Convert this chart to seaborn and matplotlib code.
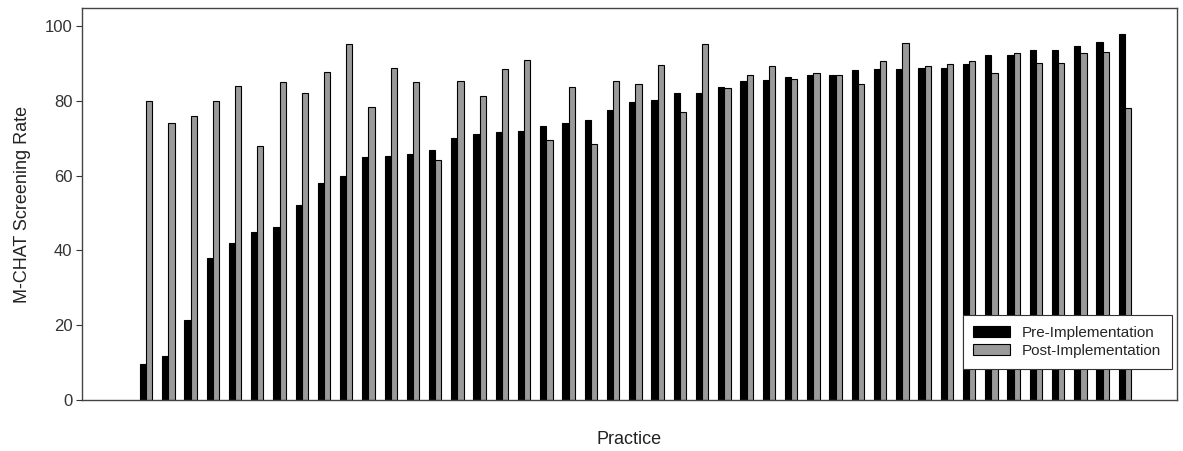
import matplotlib
matplotlib.use("Agg")
import matplotlib.pyplot as plt
import seaborn as sns
import pandas as pd

# M-CHAT screening rate per practice
practices = list(range(1, 46))
pre_rate = [9.5, 11.8, 21.4, 37.9, 41.9, 45.0, 46.3, 52.0, 57.9, 60.0,
            65.0, 65.2, 65.7, 66.8, 70.0, 71.1, 71.6, 72.0, 73.2, 74.0,
            74.9, 77.4, 79.6, 80.2, 82.0, 82.0, 83.6, 85.3, 85.6, 86.4,
            86.9, 86.9, 88.2, 88.4, 88.4, 88.7, 88.7, 89.7, 92.1, 92.2,
            93.6, 93.6, 94.7, 95.6, 97.8]
post_rate = [80.0, 74.0, 75.9, 79.8, 84.0, 68.0, 84.9, 82.0, 87.8, 95.1,
             78.4, 88.7, 84.9, 64.2, 85.4, 81.4, 88.5, 90.9, 69.5, 83.8,
             68.4, 85.4, 84.6, 89.6, 76.9, 95.1, 83.3, 86.9, 89.4, 85.9,
             87.3, 86.9, 84.4, 90.7, 95.4, 89.2, 89.7, 90.7, 87.5, 92.7,
             90.0, 90.0, 92.7, 93.0, 78.0]
groups = ["Pre-Implementation", "Post-Implementation"]

df = pd.DataFrame({
    "Practice": practices * 2,
    "Rate": pre_rate + post_rate,
    "Period": [groups[0]] * len(practices) + [groups[1]] * len(practices),
})

sns.set_style("white")
plt.rcParams["font.family"] = ["Liberation Sans", "DejaVu Sans"]

fig = plt.figure(figsize=(11.83, 4.51), dpi=100)
ax = fig.add_axes([0.0693, 0.1131, 0.9257, 0.8692])

sns.barplot(data=df, x="Practice", y="Rate", hue="Period", hue_order=groups,
            palette={groups[0]: "black", groups[1]: "#9a9a9a"},
            width=0.56, gap=0, edgecolor="black", linewidth=0.8,
            errorbar=None, ax=ax)

ax.set_xlim(-2.88, 46.35)
ax.set_ylim(0, 104.8)
ax.set_yticks([0, 20, 40, 60, 80, 100])
ax.set_xticks([])
ax.tick_params(axis="y", direction="out", length=4, width=0.8, pad=3,
               labelsize=12, colors="#333333", left=True)
ax.set_ylabel("M-CHAT Screening Rate", fontsize=13, color="#222222", labelpad=10)
ax.set_xlabel("Practice", fontsize=13, color="#222222", labelpad=22)

for s in ax.spines.values():
    s.set_color("#444444")
    s.set_linewidth(1.0)

leg = ax.legend(loc="lower right", bbox_to_anchor=(0.9955, 0.08),
                fontsize=11, frameon=True, fancybox=False, framealpha=1,
                edgecolor="#333333", handlelength=2.4, handleheight=0.8,
                borderpad=0.7, labelspacing=0.25, handletextpad=0.8,
                borderaxespad=0, title=None)
leg.get_frame().set_linewidth(0.8)

fig.savefig("out.png", dpi=100)
